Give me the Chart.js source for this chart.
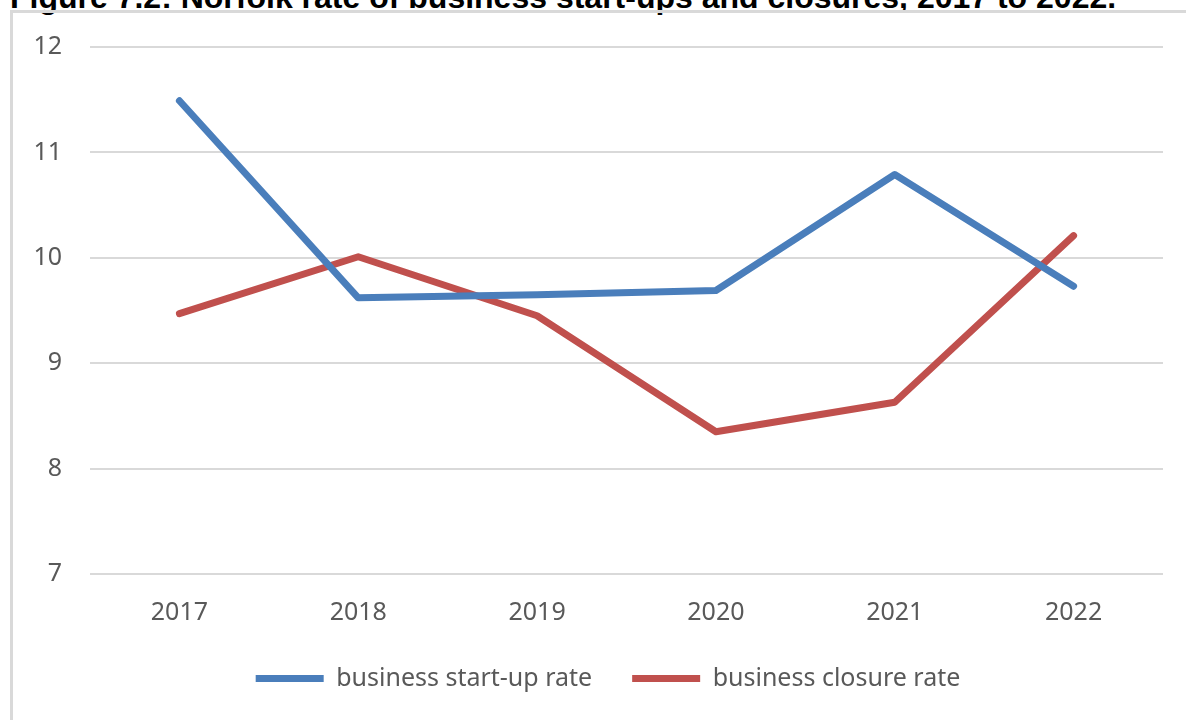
<!DOCTYPE html>
<html>
<head>
<meta charset="utf-8">
<title>Norfolk business start-ups and closures</title>
<script src="https://cdn.jsdelivr.net/npm/chart.js@4"></script>
<style>
  html, body { margin: 0; padding: 0; background: #fff; overflow: hidden; }
  body { width: 1186px; height: 720px; position: relative; }
  #heading {
    position: absolute; left: 10px; top: -19px; margin: 0;
    font: bold 32px "Liberation Sans", Arial, sans-serif; line-height: 32px;
    color: #000; white-space: nowrap;
  }
  #frame {
    position: absolute; left: 10px; top: 10px;
    width: 1173px; height: 707px;
    border-top: 3px solid #d9d9d9; border-left: 3px solid #d9d9d9;
  }
</style>
</head>
<body>
<h1 id="heading">Figure 7.2: Norfolk rate of business start-ups and closures, 2017 to 2022.</h1>
<div id="frame"><canvas id="chart"></canvas></div>
<script>
// Yearly rates for Norfolk
const years = ['2017', '2018', '2019', '2020', '2021', '2022'];
const startUpRate = [11.49, 9.62, 9.65, 9.69, 10.79, 9.73];
const closureRate = [9.47, 10.01, 9.45, 8.35, 8.63, 10.21];
const yTicks = [7, 8, 9, 10, 11, 12];

const BLUE = '#4a7ebb';
const RED = '#c0504d';
const GRID = '#d9d9d9';
const TEXT = '#595959';

function lineSeries(label, data, color) {
    return {
        label: label,
        data: data,
        borderColor: color,
        backgroundColor: color,
        borderWidth: 7,
        borderCapStyle: 'round',
        borderJoinStyle: 'round',
        pointRadius: 0,
        tension: 0,
        fill: false
    };
}

// nudge the legend a little to the right, under the plot
const legendShift = {
    id: 'legendShift',
    afterLayout(chart) {
        chart.legend.left += 20;
        chart.legend.right += 20;
    }
};

const ctx = document.getElementById('chart').getContext('2d');
new Chart(ctx, {
    type: 'line',
    data: {
        labels: years,
        datasets: [
            lineSeries('business start-up rate', startUpRate, BLUE),
            lineSeries('business closure rate', closureRate, RED)
        ]
    },
    plugins: [legendShift],
    options: {
        responsive: true,
        maintainAspectRatio: false,
        animation: false,
        layout: { padding: { top: 34, right: 23, left: 0, bottom: 19 } },
        scales: {
            x: {
                offset: true,
                grid: { display: false, drawTicks: false },
                border: { display: false },
                ticks: { color: TEXT, padding: 24, font: { family: 'Noto Sans', size: 25 } },
                afterFit: s => { s.height = 52; }
            },
            y: {
                min: yTicks[0],
                max: yTicks[yTicks.length - 1],
                afterBuildTicks: s => { s.ticks = yTicks.map(v => ({ value: v })); },
                grid: { color: GRID, lineWidth: 2, tickLength: 23, tickColor: 'rgba(0,0,0,0)' },
                border: { display: false },
                ticks: { color: TEXT, padding: 5, font: { family: 'Noto Sans', size: 25 } },
                afterFit: s => { s.width = 77; }
            }
        },
        plugins: {
            legend: {
                position: 'bottom',
                labels: {
                    color: TEXT,
                    font: { family: 'Noto Sans', size: 25 },
                    boxWidth: 68,
                    boxHeight: 7,
                    padding: 40,
                    useBorderRadius: true,
                    borderRadius: 3.5,
                    generateLabels: chart => chart.data.datasets.map((d, i) => ({
                        text: d.label,
                        fillStyle: d.borderColor,
                        strokeStyle: d.borderColor,
                        lineWidth: 0,
                        fontColor: TEXT,
                        datasetIndex: i
                    }))
                }
            },
            tooltip: { enabled: false }
        }
    }
});
</script>
</body>
</html>
